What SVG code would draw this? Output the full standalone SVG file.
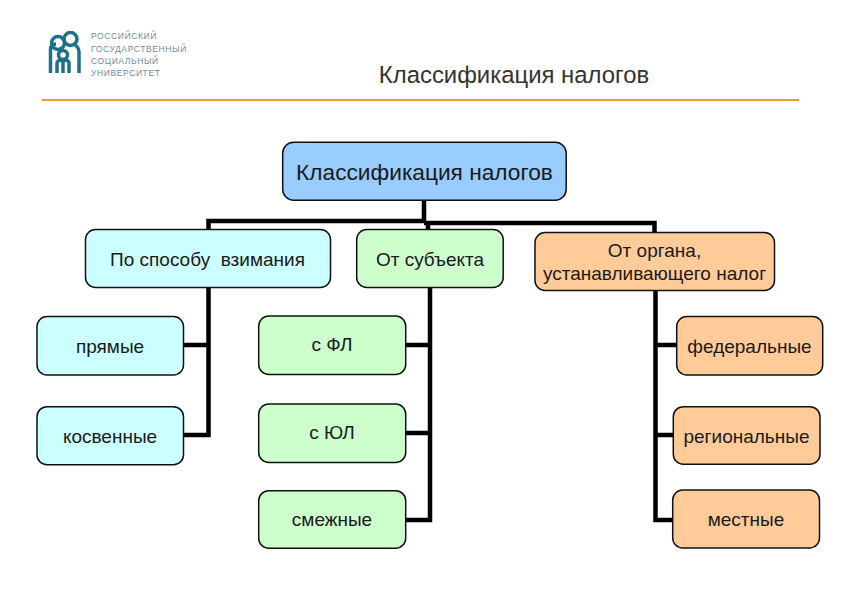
<svg xmlns="http://www.w3.org/2000/svg" width="842" height="596" viewBox="0 0 842 596">
<style>
text{font-family:"Liberation Sans",Arial,sans-serif;fill:#1a1a1a;text-anchor:middle;font-size:19px}
.n{stroke:#111;stroke-width:1.5}
.b{fill:#99ccff}.c{fill:#ccffff}.g{fill:#ccffcc}.o{fill:#ffcc99}
#connectors path{fill:none;stroke:#000;stroke-width:4.500}
#logo path,#logo circle{fill:none;stroke:#1f7187;stroke-width:3.500}
#logo text{text-anchor:start;font-size:8.500px;fill:#6f8c9b;letter-spacing:.6px}
</style>
<rect width="842" height="596" fill="#fff"/>
<g id="logo">
<circle cx="58" cy="43" r="6.500"/><circle cx="70.500" cy="39" r="6.500"/><circle cx="63" cy="55" r="4.500"/>
<path d="M50.500 73V50Q50.500 44 56 44M75 45Q79 47 79 53V73M57 73V63Q57 60 63 60Q69 60 69 63V73M63 61V73"/>
<text x="91" y="39">РОССИЙСКИЙ</text><text x="91" y="52">ГОСУДАРСТВЕННЫЙ</text><text x="91" y="64">СОЦИАЛЬНЫЙ</text><text x="91" y="76">УНИВЕРСИТЕТ</text>
</g>
<text id="title" x="514" y="83" style="font-size:23.900px;fill:#333">Классификация налогов</text>
<path id="rule" d="M42 100H799" stroke="#ee9a3a" stroke-width="2"/>
<g id="connectors">
<path d="M424 200V222M208.500 230V221H424M428 221V230M424 223H654.500V233"/>
<path d="M208.500 287V435H183M183 345H208"/>
<path d="M430 287V520H405M405 345H430M405 433H430"/>
<path d="M655.500 290V520H673M655 345H677M655 435H673"/>
</g>
<g id="root"><rect class="n b" x="282.700" y="142.300" width="283.500" height="58" rx="11"/><text x="424.500" y="180" style="font-size:22.700px">Классификация налогов</text></g>
<g id="n-sposob"><rect class="n c" x="85.500" y="229.500" width="245" height="58" rx="10"/><text x="207.500" y="266" xml:space="preserve">По способу  взимания</text></g>
<g id="n-subject"><rect class="n g" x="356.700" y="229.500" width="146.500" height="58" rx="10"/><text x="430" y="266">От субъекта</text></g>
<g id="n-organ"><rect class="n o" x="535" y="232.500" width="239.500" height="58" rx="10"/><text x="654.500" y="257">От органа,</text><text x="654.500" y="280">устанавливающего налог</text></g>
<g id="n-pryamye"><rect class="n c" x="37" y="316.500" width="146.500" height="58.500" rx="10"/><text x="110" y="353">прямые</text></g>
<g id="n-kosv"><rect class="n c" x="37" y="406.700" width="146.500" height="58" rx="10"/><text x="110" y="443">косвенные</text></g>
<g id="n-fl"><rect class="n g" x="258.700" y="316" width="147" height="58.500" rx="10"/><text x="332" y="351">с ФЛ</text></g>
<g id="n-yul"><rect class="n g" x="258.700" y="404" width="147" height="58.500" rx="10"/><text x="332" y="439">с ЮЛ</text></g>
<g id="n-smezh"><rect class="n g" x="258.700" y="490.700" width="147" height="57.500" rx="10"/><text x="332" y="526">смежные</text></g>
<g id="n-fed"><rect class="n o" x="676.700" y="316.500" width="146" height="58.500" rx="10"/><text x="749.500" y="353">федеральные</text></g>
<g id="n-reg"><rect class="n o" x="673.300" y="406.700" width="146.700" height="57.500" rx="10"/><text x="746.500" y="443">региональные</text></g>
<g id="n-mest"><rect class="n o" x="672.700" y="490" width="146.800" height="58" rx="10"/><text x="746" y="526">местные</text></g>
</svg>
